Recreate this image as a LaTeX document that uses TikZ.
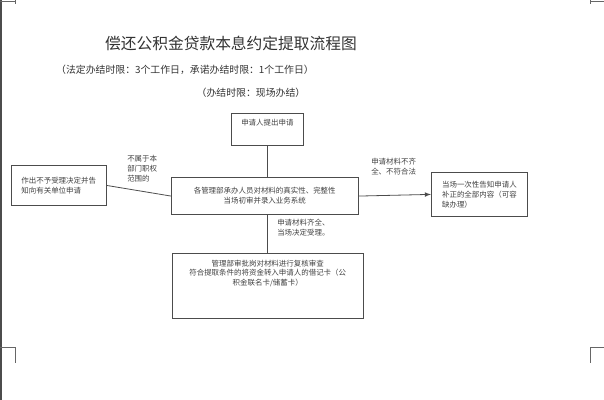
\documentclass[tikz,border=0pt]{standalone}
\usepackage{fontspec}
\setmainfont{Noto Sans CJK SC}
\usetikzlibrary{positioning}
\tikzset{
    flowbox/.style={draw=black!70, line width=0.6pt, inner sep=2pt, font=\fontsize{5.6}{7.4}\selectfont, text=black!75},
    flowlabel/.style={font=\fontsize{5.6}{7.4}\selectfont, text=black!75, align=left, inner sep=0pt},
    flowline/.style={draw=black!70, line width=0.6pt}
}
\begin{document}
\begin{tikzpicture}[x=0.75pt, y=-0.75pt]
    \useasboundingbox (0, 0) rectangle (604, 400);
    % 页边
    \draw [black!70, line width=0.8pt] (1, 0) -- (1, 400);
    \draw [black!60, line width=0.5pt] (0, 1) -- (15, 1) (15, 0) -- (15, 4);
    \draw [black!60, line width=0.5pt] (604, 1) -- (590, 1) (590, 0) -- (590, 4);
    \draw [black!60, line width=0.5pt] (0, 347) -- (15, 347) -- (15, 363);
    \draw [black!60, line width=0.5pt] (604, 347) -- (590, 347) -- (590, 363);

    % 标题
    \node (title) at (231, 43) {\fontsize{11.8}{13}\selectfont\color{black!80}偿还公积金贷款本息约定提取流程图};
    \node (limit) at (185, 70) {\fontsize{7.4}{9}\selectfont\color{black!80}（法定办结时限：3个工作日，承诺办结时限：1个工作日）};
    \node (onsite) at (251, 93) {\fontsize{7.4}{9}\selectfont\color{black!80}（办结时限：现场办结）};

    % 方框
    \node (apply) [flowbox, minimum width=54pt, minimum height=24pt, anchor=north west, align=center, text depth=11pt] at (231, 113) {申请人提出申请};
    \node (check) [flowbox, minimum width=140pt, minimum height=28pt, anchor=north west, align=center] at (171, 177) {各管理部承办人员对材料的真实性、完整性\\当场初审并录入业务系统};
    \node (reject) [flowbox, minimum width=71pt, minimum height=30pt, anchor=north west, align=left] at (11, 165) {作出不予受理决定并告\\知向有关单位申请};
    \node (notify) [flowbox, minimum width=72pt, minimum height=33pt, anchor=north west, align=left] at (431, 172) {当场一次性告知申请人\\补正的全部内容（可容\\缺办理）};
    \node (review) [flowbox, minimum width=143pt, minimum height=49pt, anchor=north west, align=center, text depth=20pt] at (172, 253) {管理部审批岗对材料进行复核审查\\符合提取条件的将资金转入申请人的借记卡（公\\积金联名卡/储蓄卡）};

    % 连线
    \draw [flowline] (apply) -- (apply |- check.north);
    \draw [flowline] (check.west) -- (reject.east);
    \draw [flowline, -latex] (check.east) -- (notify.west);
    \draw [flowline] (check.south -| apply) -- (apply |- review.north);

    % 标注
    \node (outscope) [flowlabel, anchor=north west] at (127, 155) {不属于本\\部门职权\\范围的};
    \node (incomplete) [flowlabel, anchor=north west] at (371, 158) {申请材料不齐\\全、不符合法};
    \node (complete) [flowlabel, anchor=north west] at (277, 219) {申请材料齐全、\\当场决定受理。};
\end{tikzpicture}
\end{document}
